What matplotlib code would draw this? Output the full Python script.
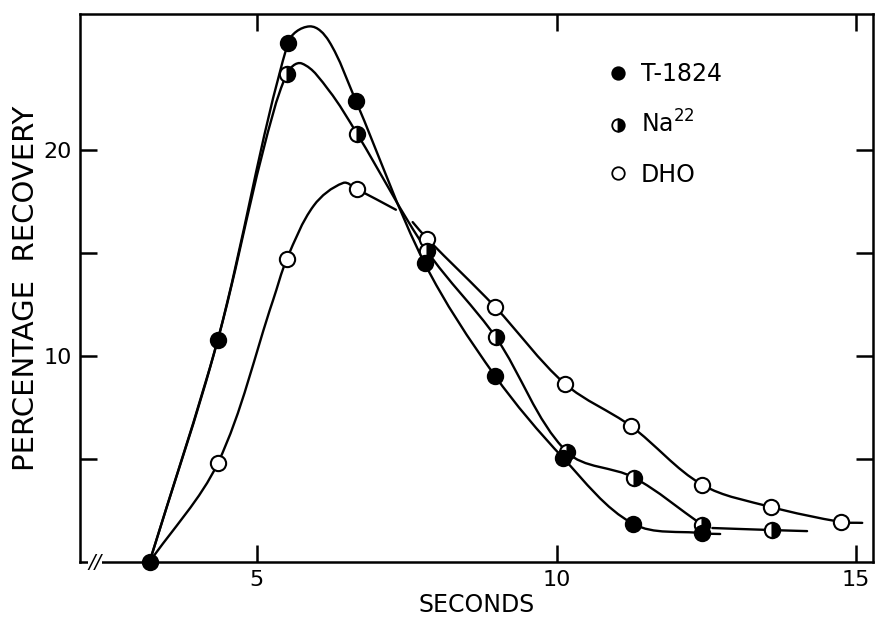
import numpy as np
import matplotlib.pyplot as plt
from matplotlib.path import Path
from matplotlib.patches import PathPatch

# Data points (seconds, percentage recovery)
t_x = [3.21, 4.35, 5.52, 6.65, 7.80, 8.97, 10.11, 11.28, 12.43]
t_y = [0.0, 10.8, 25.2, 22.4, 14.5, 9.05, 5.05, 1.85, 1.4]

na_x = [5.50, 6.67, 7.84, 8.99, 10.17, 11.29, 12.43, 13.60]
na_y = [23.7, 20.8, 15.1, 10.9, 5.35, 4.1, 1.8, 1.55]

dho_x = [4.35, 5.50, 6.67, 7.84, 8.97, 10.14, 11.24, 12.43, 13.58, 14.75]
dho_y = [4.8, 14.7, 18.1, 15.7, 12.4, 8.65, 6.6, 3.75, 2.65, 1.95]

# Hand-drawn curves
t_cx = [3.21, 4.35, 5.52, 5.88, 6.20, 6.65, 7.80, 8.97, 10.11, 11.28, 12.43, 12.73]
t_cy = [0.0, 10.8, 25.2, 26.0, 25.3, 22.4, 14.5, 9.05, 5.05, 1.85, 1.4, 1.36]

na_cx = [3.21, 4.35, 5.10, 5.50, 5.75, 6.20, 6.67, 7.84, 8.99,
         10.17, 11.29, 12.43]
na_cy = [0.0, 10.8, 19.9, 23.7, 24.2, 22.9, 20.8, 15.1, 10.9,
         5.35, 4.1, 1.8]
na_cx2 = [12.60, 13.60, 14.18]
na_cy2 = [1.65, 1.55, 1.5]

dho_cx = [3.21, 4.35, 5.27, 5.50, 5.95, 6.44, 6.67, 7.32]
dho_cy = [0.0, 4.8, 12.7, 14.7, 17.3, 18.4, 18.1, 17.1]
dho_cx2 = [7.60, 7.84, 8.97, 10.14, 11.24, 12.43, 13.58, 14.75, 15.10]
dho_cy2 = [16.5, 15.7, 12.4, 8.65, 6.6, 3.75, 2.67, 1.94, 1.9]

labels = ["T-1824", "Na$^{22}$", "DHO"]


def smooth_curve(ax, xs, ys):
    # cubic bezier path through the traced points, tangent length scaled per segment
    p = [np.array(ax.transData.transform((x, y))) for x, y in zip(xs, ys)]
    n = len(p)
    tang = []
    for i in range(n):
        d = p[min(i + 1, n - 1)] - p[max(i - 1, 0)]
        tang.append(d / np.hypot(*d))
    verts = [p[0]]
    codes = [Path.MOVETO]
    for i in range(n - 1):
        L = np.hypot(*(p[i + 1] - p[i])) / 3
        verts += [p[i] + tang[i] * L, p[i + 1] - tang[i + 1] * L, p[i + 1]]
        codes += [Path.CURVE4] * 3
    ax.add_patch(PathPatch(Path(verts, codes), fill=False, lw=1.7,
                           edgecolor="black", capstyle="round",
                           transform=None, zorder=2))


fig = plt.figure(figsize=(8.76, 6.18), dpi=100)
ax = fig.add_axes([0.0913, 0.0906, 0.9053, 0.8867])
ax.set_xlim(2.05, 15.28)
ax.set_ylim(0, 26.6)

smooth_curve(ax, t_cx, t_cy)
smooth_curve(ax, na_cx, na_cy)
smooth_curve(ax, na_cx2, na_cy2)
smooth_curve(ax, dho_cx, dho_cy)
smooth_curve(ax, dho_cx2, dho_cy2)

ms = 11
ax.plot(dho_x, dho_y, "o", ms=ms, mfc="white", mec="black", mew=1.5, zorder=3)
ax.plot(na_x, na_y, "o", ms=ms, fillstyle="right", mfc="black", mfcalt="white",
        mec="black", mew=1.5, zorder=4)
ax.plot(t_x, t_y, "o", ms=ms, mfc="black", mec="black", mew=1.5, zorder=5,
        clip_on=False)

# legend
leg_ms = 9
h1, = ax.plot([], [], "o", ms=leg_ms, mfc="black", mec="black", mew=1.3)
h2, = ax.plot([], [], "o", ms=leg_ms, fillstyle="right", mfc="black",
              mfcalt="white", mec="black", mew=1.3)
h3, = ax.plot([], [], "o", ms=leg_ms, mfc="white", mec="black", mew=1.3)
ax.legend([h1, h2, h3], labels, loc="upper left", bbox_to_anchor=(0.655, 0.93),
          frameon=False, fontsize=17, handlelength=0.8, handletextpad=0.55,
          labelspacing=1.05, borderaxespad=0)

ax.set_xticks([5, 10, 15])
ax.set_yticks([5, 10, 15, 20])
ax.set_yticklabels(["", "10", "", "20"])
ax.tick_params(direction="in", length=12, width=1.8, labelsize=16,
               top=True, right=True, pad=6)
for s in ax.spines.values():
    s.set_linewidth(1.8)

ax.set_xlabel("SECONDS", fontsize=17, labelpad=2)
ax.set_ylabel("PERCENTAGE  RECOVERY", fontsize=21, labelpad=2)

# axis break mark
ax.text(2.3, 0, "//", fontsize=14, ha="center", va="center",
        clip_on=False, style="italic",
        bbox=dict(facecolor="white", edgecolor="none", pad=0))

fig.savefig("out.png", dpi=100)
